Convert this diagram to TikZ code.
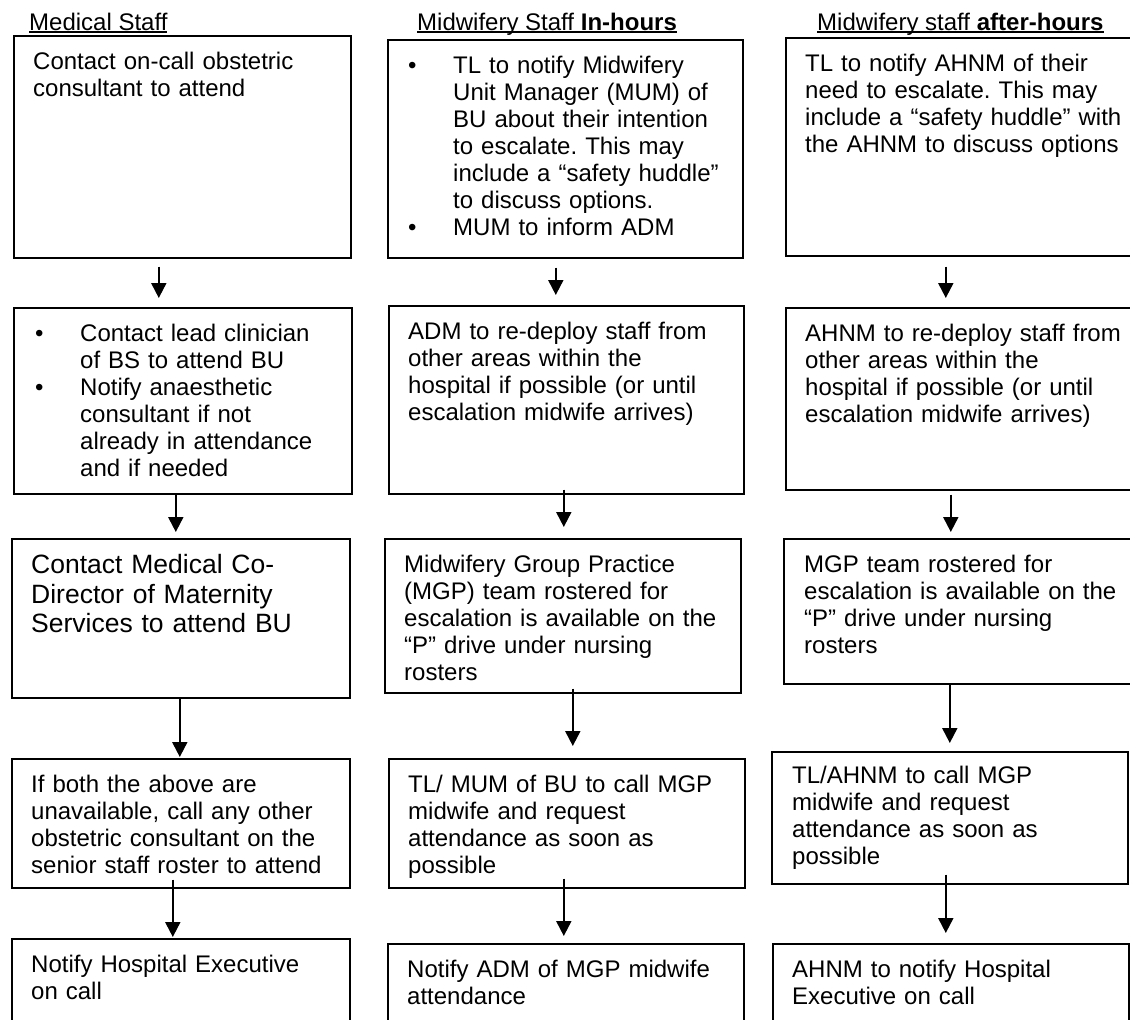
\documentclass[tikz,border=0pt]{standalone}
\usepackage{fontspec}
\setmainfont{Liberation Sans}
\usetikzlibrary{arrows.meta}
\frenchspacing
\newcommand\bul{\makebox[45pt][l]{\textbullet}}
\newcommand\ind{\hspace*{45pt}}
\newcommand\hdrline[1]{\setbox0\hbox{#1}\rlap{\rule[-3pt]{\wd0}{1.8pt}}\box0}
\tikzset{
  stepbox/.style = {draw, line width=1.6pt, inner sep=0pt, anchor=north west},
  txt/.style = {anchor=north west, inner sep=0pt, text width=335pt, align=left,
    font=\fontsize{24}{27}\selectfont, execute at begin node=\strut},
  txtbig/.style = {txt, font=\fontsize{26.5}{29.5}\selectfont},
  hdr/.style = {anchor=base west, inner sep=0pt, font=\fontsize{24}{27}\selectfont},
  arr/.style = {line width=2pt, -{Triangle[width=15pt,length=15pt]}}
}
\begin{document}
\begin{tikzpicture}[x=1pt, y=-1pt]
  \path[use as bounding box, clip] (0,0) rectangle (1130,1020);
  \fill[white] (0,0) rectangle (1130,1020);
  % column headers
  \node[hdr] (hmed) at (29,30) {\hdrline{Medical Staff}};
  \node[hdr] (hin) at (417,30) {\hdrline{Midwifery Staff \textbf{In-hours}}};
  \node[hdr] (hafter) at (817,30) {\hdrline{Midwifery staff \textbf{after-hours}}};
  % medical staff
  \node[stepbox, minimum width=337pt, minimum height=222pt] (m1) at (13,35) {};
  \node[txt] (m1t) at ([shift={(20,15)}]m1.north west) {Contact on-call obstetric\\consultant to attend};
  \node[stepbox, minimum width=338pt, minimum height=186pt] (m2) at (13,307) {};
  \node[txt] (m2t) at ([shift={(22,15)}]m2.north west) {\bul Contact lead clinician\\\ind of BS to attend BU\\\bul Notify anaesthetic\\\ind consultant if not\\\ind already in attendance\\\ind and if needed};
  \node[stepbox, minimum width=338pt, minimum height=159pt] (m3) at (11,538) {};
  \node[txtbig] (m3t) at ([shift={(20,15)}]m3.north west) {Contact Medical Co-\\Director of Maternity\\Services to attend BU};
  \node[stepbox, minimum width=338pt, minimum height=129pt] (m4) at (11,758) {};
  \node[txt] (m4t) at ([shift={(20,15)}]m4.north west) {If both the above are\\unavailable, call any other\\obstetric consultant on the\\senior staff roster to attend};
  \node[stepbox, minimum width=338pt, minimum height=120pt] (m5) at (11,938) {};
  \node[txt] (m5t) at ([shift={(20,15)}]m5.north west) {Notify Hospital Executive\\on call};
  % midwifery in-hours
  \node[stepbox, minimum width=355pt, minimum height=218pt] (i1) at (387,39) {};
  \node[txt] (i1t) at ([shift={(21,15)}]i1.north west) {\bul TL to notify Midwifery\\\ind Unit Manager (MUM) of\\\ind BU about their intention\\\ind to escalate. This may\\\ind include a “safety huddle”\\\ind to discuss options.\\\bul MUM to inform ADM};
  \node[stepbox, minimum width=355pt, minimum height=188pt] (i2) at (388,305) {};
  \node[txt] (i2t) at ([shift={(20,15)}]i2.north west) {ADM to re-deploy staff from\\other areas within the\\hospital if possible (or until\\escalation midwife arrives)};
  \node[stepbox, minimum width=356pt, minimum height=154pt] (i3) at (384,538) {};
  \node[txt] (i3t) at ([shift={(20,15)}]i3.north west) {Midwifery Group Practice\\(MGP) team rostered for\\escalation is available on the\\“P” drive under nursing\\rosters};
  \node[stepbox, minimum width=356pt, minimum height=129pt] (i4) at (388,758) {};
  \node[txt] (i4t) at ([shift={(20,15)}]i4.north west) {TL/ MUM of BU to call MGP\\midwife and request\\attendance as soon as\\possible};
  \node[stepbox, minimum width=356pt, minimum height=120pt] (i5) at (387,943) {};
  \node[txt] (i5t) at ([shift={(20,15)}]i5.north west) {Notify ADM of MGP midwife\\attendance};
  % midwifery after-hours
  \node[stepbox, minimum width=356pt, minimum height=218pt] (a1) at (785,37) {};
  \node[txt] (a1t) at ([shift={(20,15)}]a1.north west) {TL to notify AHNM of their\\need to escalate. This may\\include a “safety huddle” with\\the AHNM to discuss options};
  \node[stepbox, minimum width=356pt, minimum height=182pt] (a2) at (785,307) {};
  \node[txt] (a2t) at ([shift={(20,15)}]a2.north west) {AHNM to re-deploy staff from\\other areas within the\\hospital if possible (or until\\escalation midwife arrives)};
  \node[stepbox, minimum width=358pt, minimum height=145pt] (a3) at (783,538) {};
  \node[txt] (a3t) at ([shift={(21,15)}]a3.north west) {MGP team rostered for\\escalation is available on the\\“P” drive under nursing\\rosters};
  \node[stepbox, minimum width=356pt, minimum height=132pt] (a4) at (771,751) {};
  \node[txt] (a4t) at ([shift={(21,13)}]a4.north west) {TL/AHNM to call MGP\\midwife and request\\attendance as soon as\\possible};
  \node[stepbox, minimum width=356pt, minimum height=120pt] (a5) at (772,943) {};
  \node[txt] (a5t) at ([shift={(20,15)}]a5.north west) {AHNM to notify Hospital\\Executive on call};
  % arrows
  \draw[arr] ([shift={(-23.5,8)}]m1.south) -- ([shift={(-23.5,-9)}]m1.south |- m2.north);
  \draw[arr] ([shift={(-7,0)}]m2.south) -- ([shift={(-7,-6)}]m2.south |- m3.north);
  \draw[arr] ([shift={(-1,0)}]m3.south) -- ([shift={(-1,-1)}]m3.south |- m4.north);
  \draw[arr] ([shift={(-8,-9)}]m4.south) -- ([shift={(-8,-1)}]m4.south |- m5.north);
  \draw[arr] ([shift={(-9.5,9)}]i1.south) -- ([shift={(-9.5,-10)}]i1.south |- i2.north);
  \draw[arr] ([shift={(-2.5,-5)}]i2.south) -- ([shift={(-2.5,-11)}]i2.south |- i3.north);
  \draw[arr] ([shift={(10,-5)}]i3.south) -- ([shift={(10,-12)}]i3.south |- i4.north);
  \draw[arr] ([shift={(-3,-10)}]i4.south) -- ([shift={(-3,-7)}]i4.south |- i5.north);
  \draw[arr] ([shift={(-18,10)}]a1.south) -- ([shift={(-18,-9)}]a1.south |- a2.north);
  \draw[arr] ([shift={(-13,4)}]a2.south) -- ([shift={(-13,-6)}]a2.south |- a3.north);
  \draw[arr] ([shift={(-13,0)}]a3.south) -- ([shift={(-13,-8)}]a3.south |- a4.north);
  \draw[arr] ([shift={(-4,-10)}]a4.south) -- ([shift={(-4,-10)}]a4.south |- a5.north);
\end{tikzpicture}
\end{document}
